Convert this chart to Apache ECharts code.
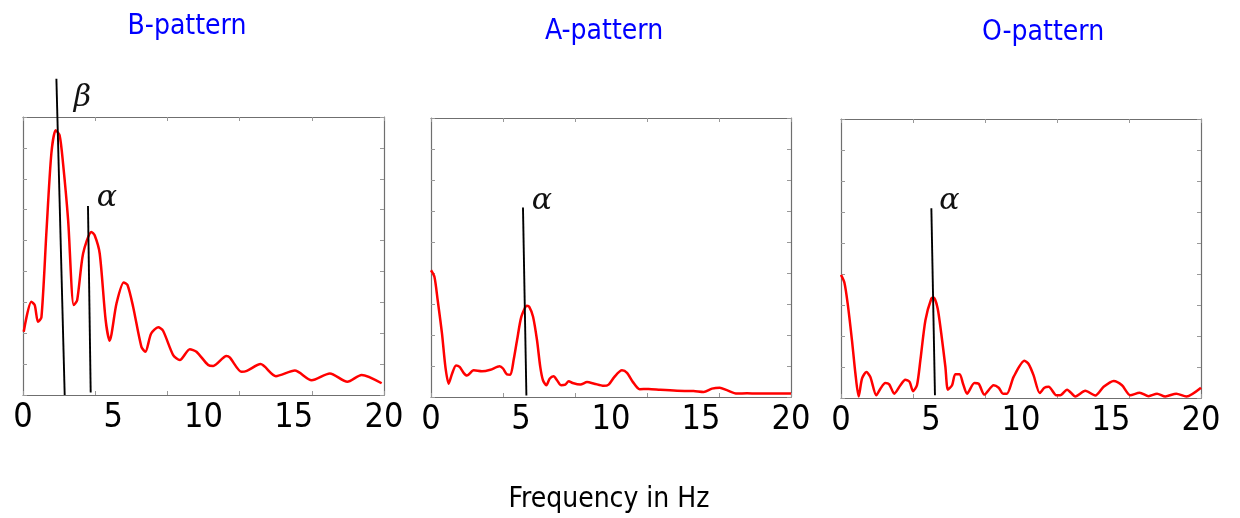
<!DOCTYPE html>
<html>
<head>
<meta charset="utf-8">
<script src="https://cdn.jsdelivr.net/npm/echarts@6/dist/echarts.min.js"></script>
<style>
  html, body { margin: 0; padding: 0; background: #ffffff; }
  #chart { width: 1240px; height: 518px; }
</style>
</head>
<body>
<div id="chart"></div>
<script>
// Panel titles
const panelTitles = ['B-pattern', 'A-pattern', 'O-pattern'];
const axisTitle = 'Frequency in Hz';

// Spectrum, B-pattern
const bFreq = [0.04, 0.46, 0.65, 0.83, 1.02, 1.3, 1.57, 1.81, 2.03, 2.22, 2.5, 2.81, 3.0, 3.33, 3.79, 3.97, 4.25, 4.58, 4.8, 5.18, 5.58, 5.79, 6.1, 6.56, 6.78, 7.1, 7.49, 7.76, 8.32, 8.69, 9.24, 9.61, 10.26, 10.54, 11.27, 11.45, 12.11, 12.4, 13.16, 14.01, 15.06, 15.99, 17.0, 17.97, 18.76, 19.87];
const bAmp  = [2.05, 3.02, 2.91, 2.37, 2.51, 5.3, 7.81, 8.57, 8.4, 7.49, 5.66, 2.91, 3.07, 4.58, 5.28, 5.17, 4.58, 2.42, 1.76, 2.96, 3.64, 3.56, 2.86, 1.56, 1.40, 1.99, 2.19, 2.08, 1.29, 1.13, 1.48, 1.40, 0.97, 0.94, 1.26, 1.22, 0.75, 0.78, 1.0, 0.61, 0.79, 0.48, 0.70, 0.43, 0.65, 0.38];

// Spectrum, A-pattern
const aFreq = [0.0, 0.19, 0.37, 0.61, 0.80, 0.98, 1.17, 1.39, 1.59, 1.81, 2.0, 2.37, 2.83, 3.3, 3.81, 4.0, 4.22, 4.41, 4.59, 4.78, 5.02, 5.33, 5.46, 5.67, 5.89, 6.07, 6.22, 6.41, 6.59, 6.81, 7.0, 7.22, 7.46, 7.65, 7.87, 8.3, 8.67, 9.07, 9.59, 9.87, 10.19, 10.61, 10.89, 11.22, 11.59, 12.09, 12.74, 13.67, 14.59, 15.15, 15.61, 16.04, 16.44, 17.0, 17.56, 18.11, 19.22, 20.0];
const aAmp  = [4.09, 3.88, 3.13, 2.05, 0.97, 0.43, 0.75, 1.02, 0.97, 0.78, 0.69, 0.86, 0.83, 0.88, 0.99, 0.92, 0.73, 0.72, 1.19, 1.83, 2.59, 2.94, 2.91, 2.59, 1.83, 0.97, 0.54, 0.38, 0.59, 0.67, 0.54, 0.38, 0.40, 0.51, 0.45, 0.40, 0.48, 0.43, 0.36, 0.40, 0.65, 0.86, 0.78, 0.48, 0.25, 0.26, 0.23, 0.20, 0.19, 0.16, 0.27, 0.30, 0.22, 0.11, 0.12, 0.11, 0.11, 0.11];

// Spectrum, O-pattern
const oFreq = [0.0, 0.19, 0.37, 0.61, 0.80, 0.98, 1.17, 1.41, 1.63, 1.96, 2.19, 2.46, 2.68, 2.96, 3.3, 3.57, 3.81, 4.0, 4.22, 4.41, 4.69, 5.02, 5.15, 5.37, 5.57, 5.8, 5.94, 6.17, 6.35, 6.59, 6.78, 7.0, 7.41, 7.65, 7.96, 8.48, 8.76, 9.0, 9.22, 9.59, 10.19, 10.43, 10.7, 11.04, 11.3, 11.54, 11.96, 12.18, 12.56, 13.02, 13.57, 14.13, 14.59, 15.15, 15.61, 16.07, 16.59, 17.09, 17.56, 18.02, 18.63, 19.19, 20.0];
const oAmp  = [3.97, 3.72, 3.05, 1.86, 0.79, 0.05, 0.63, 0.84, 0.68, 0.09, 0.30, 0.48, 0.44, 0.14, 0.41, 0.59, 0.52, 0.22, 0.41, 1.22, 2.51, 3.21, 3.24, 2.89, 2.08, 1.0, 0.27, 0.41, 0.77, 0.77, 0.46, 0.14, 0.48, 0.46, 0.11, 0.41, 0.33, 0.14, 0.14, 0.68, 1.2, 1.09, 0.73, 0.16, 0.33, 0.36, 0.09, 0.09, 0.27, 0.05, 0.23, 0.08, 0.36, 0.55, 0.41, 0.09, 0.17, 0.06, 0.14, 0.05, 0.14, 0.05, 0.33];

// Rhythm marker strokes: [freq, amp] at top end, then bottom end
const bBetaMarker  = [[1.85, 10.24], [2.31, 0.0]];
const bAlphaMarker = [[3.60, 6.12], [3.75, 0.08]];
const aAlphaMarker = [[5.11, 6.11], [5.30, 0.05]];
const oAlphaMarker = [[5.02, 6.12], [5.22, 0.09]];
const markerNames = ['β', 'α'];

// Axis ranges and tick spacing
const freqMin = 0, freqMax = 20, freqTickStep = 4, freqLabelStep = 5;
const ampMin = 0, ampMax = 9, ampTickStep = 1;

const zip = (xs, ys) => xs.map((x, i) => [x, ys[i]]);

const grids = [
  { left: 23,  top: 117, width: 361, height: 278 },
  { left: 431, top: 118, width: 360, height: 279 },
  { left: 841, top: 119, width: 360, height: 279 }
];

const frameColor = '#6f6f6f';
const tickFont = "'DejaVu Sans Condensed', 'DejaVu Sans', sans-serif";
const titleFont = "'DejaVu Sans Condensed', 'DejaVu Sans', sans-serif";

const xAxes = [], yAxes = [];
grids.forEach((g, i) => {
  // frame with inward tick marks
  ['bottom', 'top'].forEach(pos => xAxes.push({
    type: 'value', gridIndex: i, position: pos, min: freqMin, max: freqMax, interval: freqTickStep,
    axisLine: { show: true, onZero: false, lineStyle: { color: frameColor, width: 1.2 } },
    axisTick: { show: true, inside: true, length: 4, lineStyle: { color: '#999', width: 1 } },
    axisLabel: { show: false }, splitLine: { show: false }
  }));
  // frequency labels
  xAxes.push({
    type: 'value', gridIndex: i, position: 'bottom', min: freqMin, max: freqMax, interval: freqLabelStep,
    axisLine: { show: false }, axisTick: { show: false }, splitLine: { show: false },
    axisLabel: { show: true, color: '#000', fontFamily: tickFont, fontSize: 34, margin: 6 }
  });
  ['left', 'right'].forEach(pos => yAxes.push({
    type: 'value', gridIndex: i, position: pos, min: ampMin, max: ampMax, interval: ampTickStep,
    axisLine: { show: true, onZero: false, lineStyle: { color: frameColor, width: 1.2 } },
    axisTick: { show: true, inside: true, length: 4, lineStyle: { color: '#999', width: 1 } },
    axisLabel: { show: false }, splitLine: { show: false }
  }));
});

function spectrum(i, xs, ys) {
  return {
    type: 'line', xAxisIndex: i * 3, yAxisIndex: i * 2, data: zip(xs, ys),
    showSymbol: false, smooth: 0.25, animation: false,
    lineStyle: { color: '#ff0000', width: 2.5 }, z: 3
  };
}

function marker(i, pts, name, offset) {
  return {
    type: 'line', xAxisIndex: i * 3, yAxisIndex: i * 2, clip: false, animation: false,
    data: pts.map((p, k) => ({
      value: p,
      label: k === 0 ? {
        show: true, formatter: name, position: offset, align: 'center', verticalAlign: 'middle',
        fontFamily: "'DejaVu Serif', serif", fontStyle: 'italic', fontSize: 30, color: '#111'
      } : { show: false }
    })),
    symbol: 'circle', symbolSize: 0.01, showSymbol: true,
    lineStyle: { color: '#000', width: 1.9 }, z: 4
  };
}

function titleText(text, x, y, size, color) {
  return { type: 'text', x: x, y: y, style: { text: text, fill: color, font: size + 'px ' + titleFont, align: 'center', verticalAlign: 'middle' } };
}

const option = {
  backgroundColor: '#ffffff',
  animation: false,
  grid: grids,
  xAxis: xAxes,
  yAxis: yAxes,
  graphic: [
    titleText(panelTitles[0], 187, 27, 28, '#0000ff'),
    titleText(panelTitles[1], 604, 32, 28, '#0000ff'),
    titleText(panelTitles[2], 1043, 33, 28, '#0000ff'),
    titleText(axisTitle, 609, 500, 28, '#000000')
  ],
  series: [
    spectrum(0, bFreq, bAmp),
    spectrum(1, aFreq, aAmp),
    spectrum(2, oFreq, oAmp),
    marker(0, bBetaMarker, markerNames[0], [26, 20]),
    marker(0, bAlphaMarker, markerNames[1], [19, -8]),
    marker(1, aAlphaMarker, markerNames[1], [19, -6]),
    marker(2, oAlphaMarker, markerNames[1], [18, -7])
  ]
};

const chart = echarts.init(document.getElementById('chart'), null, { renderer: 'canvas' });
chart.setOption(option);
</script>
</body>
</html>
